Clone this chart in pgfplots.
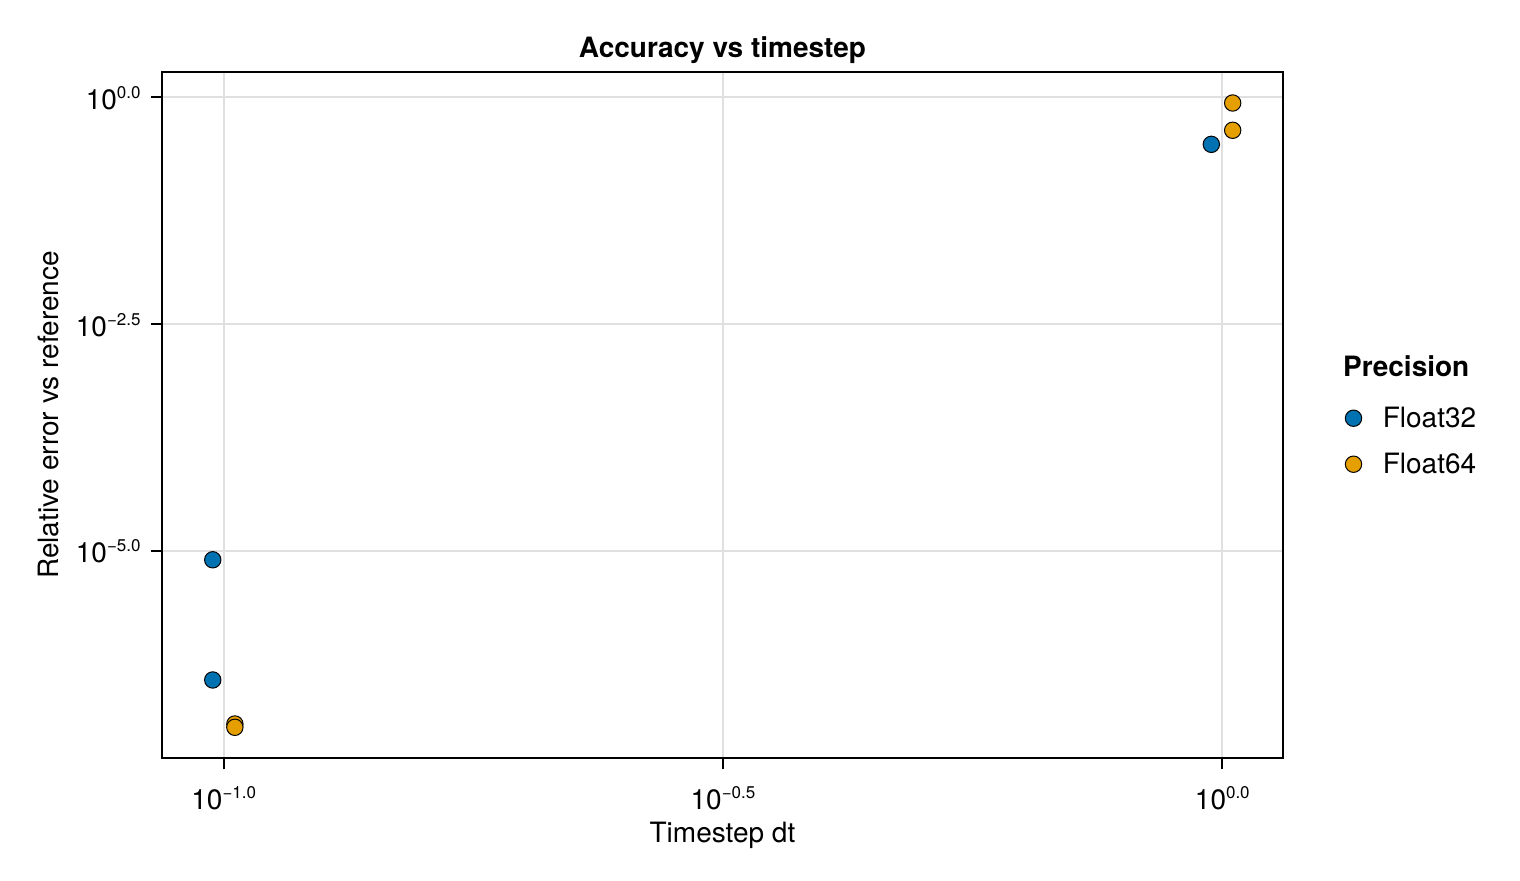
\documentclass[border=0pt]{standalone}
\usepackage{pgfplots}
\pgfplotsset{compat=1.18}
\usepackage{fontspec}
\setmainfont{TeX Gyre Heros}
\definecolor{f32}{HTML}{0072B2}
\definecolor{f64}{HTML}{E69F00}
\newcommand{\tl}[1]{10\raisebox{5.5pt}{\fontsize{8.5}{9}\selectfont #1}}
\newcommand{\fs}{\fontsize{14}{17}\selectfont}

\begin{document}
\begin{tikzpicture}
\path[use as bounding box] (0,0) rectangle (760pt,440pt);
\begin{axis}[
  at={(80.85pt,60.85pt)}, anchor=south west,
  scale only axis, width=560.8pt, height=343.3pt,
  xmode=log, ymode=log,
  xmin=0.08667, xmax=1.151, ymin=5.19e-8, ymax=1.914,
  xtick={0.1,0.316228,1},
  xticklabels={\tl{−1.0},\tl{−0.5},\tl{0.0}},
  ytick={1e-5,0.00316228,1},
  yticklabels={\tl{−5.0},\tl{−2.5},\tl{0.0}},
  xminorticks=false, yminorticks=false,
  xtick pos=bottom, ytick pos=left,
  tick align=outside,
  major tick length=5.5pt,
  tick style={black, line width=1pt},
  axis line style={line width=1pt},
  grid=major,
  major grid style={black!12, line width=1pt},
  tick label style={font=\fs},
  xticklabel style={anchor=base, inner sep=0pt, yshift=-20pt},
  yticklabel style={anchor=base east, inner sep=0pt, xshift=-4.85pt, yshift=-6pt},
  every axis title shift=0pt,
  title={Accuracy vs timestep},
  title style={font=\bfseries\fs, at={(axis description cs:0.5,1.020)}, anchor=base},
  xlabel={Timestep dt},
  ylabel={Relative error vs reference},
  label style={font=\fs},
  xlabel style={at={(axis description cs:0.5,-0.1219)}, anchor=base},
  ylabel style={at={(axis description cs:-0.0924,0.5)}, anchor=base},
  legend style={at={(rel axis cs:1.0545,0.5112)}, anchor=north west,
    draw=none, fill=none, inner sep=0pt, row sep=10pt, column sep=10.3pt,
    nodes={inner sep=0pt, anchor=base west, text height=10pt, text depth=3pt, font=\fs}},
  legend cell align=left,
  clip mode=individual,
]
\addplot[only marks, mark=*, mark size=4.1pt,
  mark options={fill=f32, draw=black, line width=0.5pt},
  legend image code/.code={\filldraw[fill=f32, draw=black, line width=0.5pt] (0pt,4.75pt) circle (4.1pt);}]
  coordinates {(0.0975,8.0e-6) (0.0975,3.79e-7) (0.975,0.303)};
\addlegendentry{Float32}
\addplot[only marks, mark=*, mark size=4.1pt,
  mark options={fill=f64, draw=black, line width=0.5pt},
  legend image code/.code={\filldraw[fill=f64, draw=black, line width=0.5pt] (0pt,4.75pt) circle (4.1pt);}]
  coordinates {(0.1026,1.24e-7) (0.1026,1.14e-7) (1.0242,0.865) (1.0242,0.433)};
\addlegendentry{Float64}
\node[anchor=base west, inner sep=0pt, font=\bfseries\fs] at (rel axis cs:1.0530,0.5568) {Precision};
\end{axis}
\end{tikzpicture}
\end{document}
